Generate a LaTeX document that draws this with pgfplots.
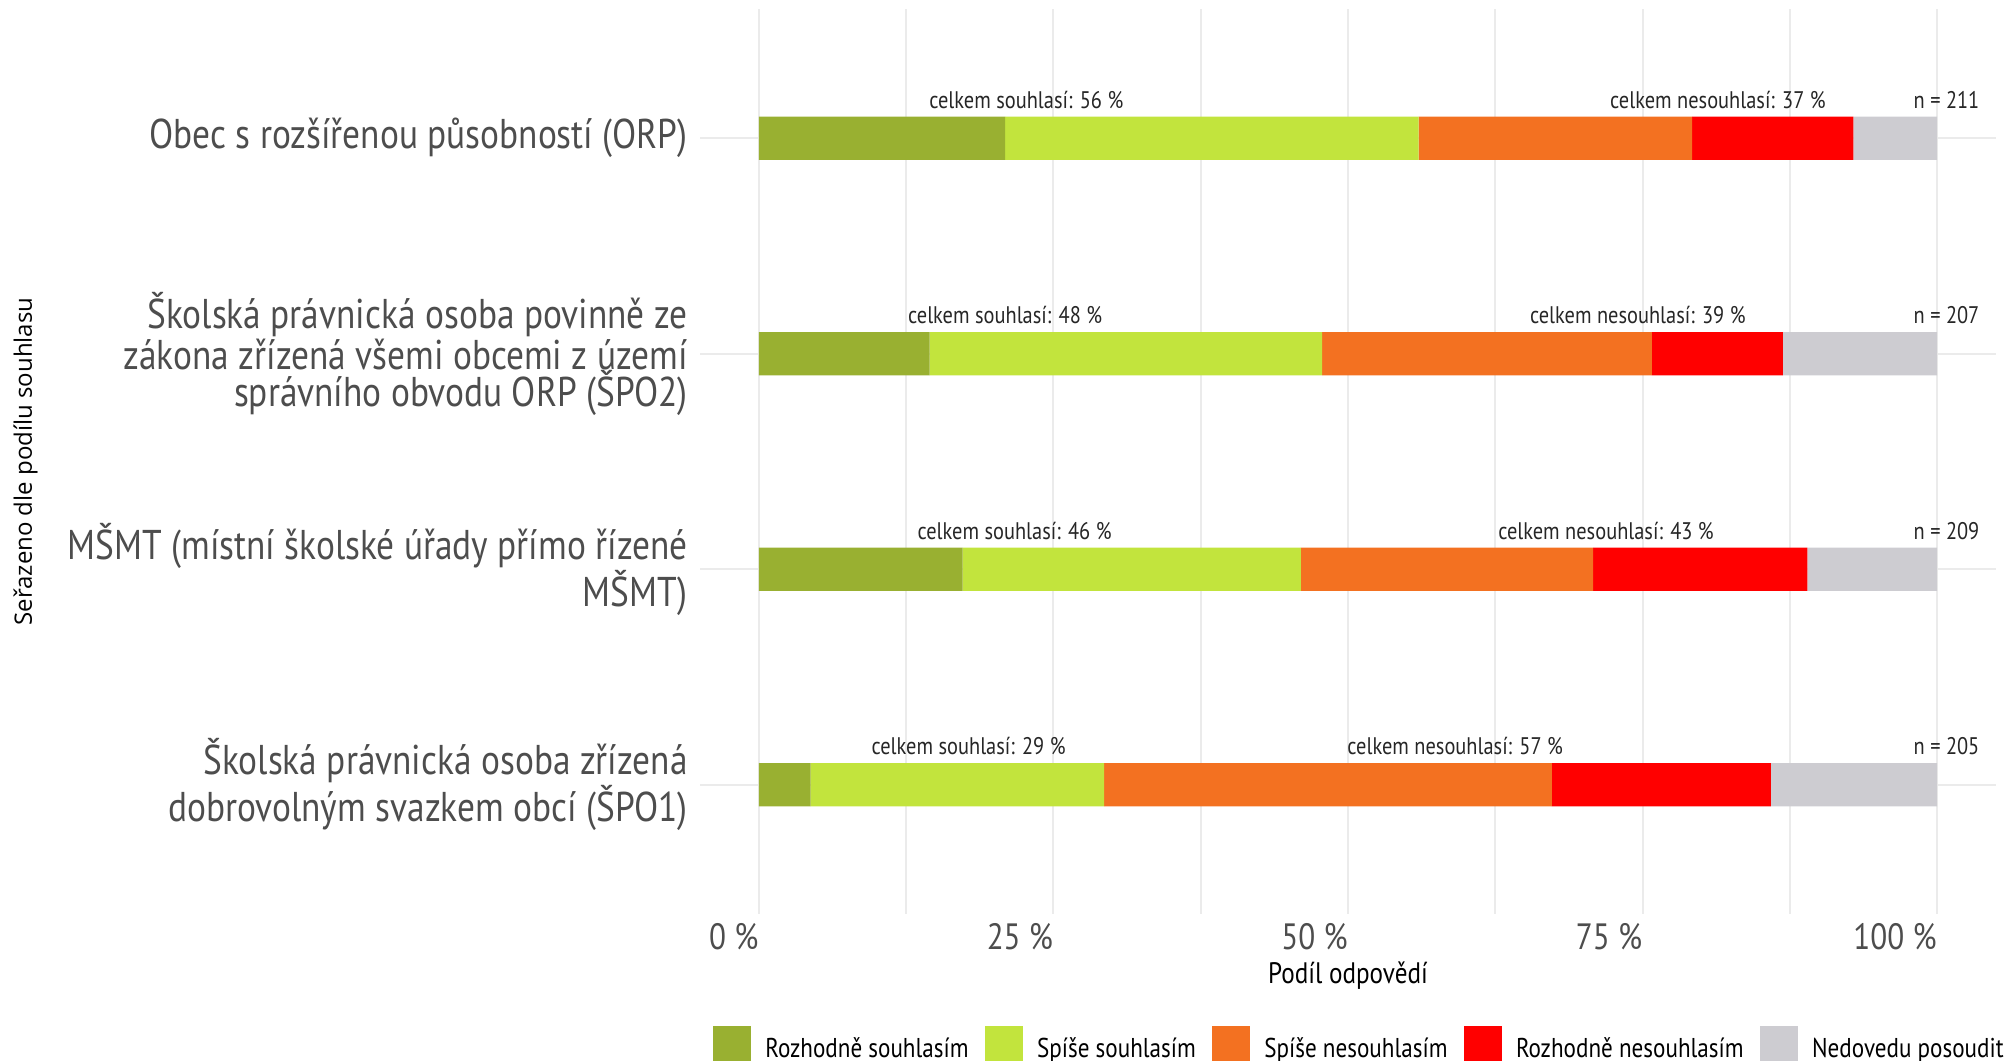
\documentclass[border=0pt]{standalone}
\usepackage{fontspec}
\setmainfont{PT Sans}[FakeStretch=0.85]
\newfontfamily\ytfont{Open Sans}
\usepackage{pgfplots}
\pgfplotsset{compat=1.18}
\definecolor{cDG}{HTML}{99B031}
\definecolor{cLG}{HTML}{C2E43D}
\definecolor{cOR}{HTML}{F37121}
\definecolor{cRD}{HTML}{FF0000}
\definecolor{cGY}{HTML}{CDCCD1}
\definecolor{cGrid}{HTML}{EBEBEB}
\definecolor{cTxt}{HTML}{4D4D4D}
\newcommand\catfont{\fontsize{20.8bp}{18.5bp}\selectfont}
\newcommand\tickfont{\fontsize{18.3bp}{20bp}\selectfont}
\newcommand\labfont{\fontsize{14.8bp}{16bp}\selectfont}
\newcommand\legfont{\fontsize{13.6bp}{15bp}\selectfont}
\newcommand\annfont{\fontsize{12bp}{13bp}\selectfont}
\tikzset{ann/.style={font=\annfont, text=black!85, inner sep=0pt, anchor=center}}
\begin{document}
\begin{tikzpicture}
\path[use as bounding box] (-350bp,-73.5bp) rectangle (652bp,457bp);
\begin{axis}[
  at={(0,0)}, anchor=south west,
  scale only axis, width=648bp, height=452.5bp,
  xbar stacked, bar width=0.2,
  xmin=-5, xmax=105, ymin=0.4, ymax=4.6,
  axis line style={draw=none},
  major tick style={draw=none}, minor tick style={draw=none},
  xtick={0,25,50,75,100},
  xticklabels={0 \%,25 \%,50 \%,75 \%,100 \%},
  minor xtick={12.5,37.5,62.5,87.5},
  ytick={1,2,3,4},
  yticklabels={
    {Školská právnická osoba zřízená\\dobrovolným svazkem obcí (ŠPO1)},
    {MŠMT (místní školské úřady přímo řízené\\MŠMT)},
    {Školská právnická osoba povinně ze\\zákona zřízená všemi obcemi z území\\správního obvodu ORP (ŠPO2)},
    {Obec s rozšířenou působností (ORP)}},
  xmajorgrids, xminorgrids, ymajorgrids,
  major grid style={cGrid, line width=1bp},
  minor grid style={cGrid, line width=1bp},
  xticklabel style={anchor=north east, inner sep=0pt, yshift=-4.5bp, font=\tickfont, text=cTxt},
  yticklabel style={anchor=east, align=right, inner sep=0pt, xshift=-6bp, font=\catfont, text=cTxt},
  xlabel={Podíl odpovědí},
  xlabel style={at={(axis description cs:0.5,0)}, anchor=center, yshift=-31bp, font=\labfont, text=black},
  ylabel={Seřazeno dle podílu souhlasu},
  ylabel style={at={(axis description cs:-0.5204,0.5)}, anchor=center, font=\ytfont\fontsize{12bp}{14bp}\selectfont, text=black},
  legend columns=5, legend cell align=left,
  area legend,
  legend image code/.code={\fill[#1] (0bp,-7.5bp) rectangle (19bp,11.5bp);},
  legend style={at={(axis description cs:0.01003,-0.14475)}, anchor=west,
    draw=none, fill=none, inner sep=0pt, column sep=7bp,
    /tikz/every even column/.append style={column sep=8.25bp},
    nodes={inner sep=0pt, font=\legfont, text=black}},
  clip=false,
]
\addplot[fill=cDG, draw=none] coordinates {(4.4,1) (17.3,2) (14.5,3) (20.9,4)};
\addlegendentry{Rozhodně souhlasím}
\addplot[fill=cLG, draw=none] coordinates {(24.9,1) (28.7,2) (33.3,3) (35.1,4)};
\addlegendentry{Spíše souhlasím}
\addplot[fill=cOR, draw=none] coordinates {(38.0,1) (24.8,2) (28.0,3) (23.2,4)};
\addlegendentry{Spíše nesouhlasím}
\addplot[fill=cRD, draw=none] coordinates {(18.6,1) (18.2,2) (11.1,3) (13.7,4)};
\addlegendentry{Rozhodně nesouhlasím}
\addplot[fill=cGY, draw=none] coordinates {(14.1,1) (11.0,2) (13.1,3) (7.1,4)};
\addlegendentry{Nedovedu posoudit}
\node[ann] at (axis cs:22.7,4.178) {celkem souhlasí: 56 \%};
\node[ann] at (axis cs:81.4,4.178) {celkem nesouhlasí: 37 \%};
\node[ann] at (axis cs:100.8,4.178) {n = 211};
\node[ann] at (axis cs:20.9,3.178) {celkem souhlasí: 48 \%};
\node[ann] at (axis cs:74.6,3.178) {celkem nesouhlasí: 39 \%};
\node[ann] at (axis cs:100.8,3.178) {n = 207};
\node[ann] at (axis cs:21.7,2.178) {celkem souhlasí: 46 \%};
\node[ann] at (axis cs:71.9,2.178) {celkem nesouhlasí: 43 \%};
\node[ann] at (axis cs:100.8,2.178) {n = 209};
\node[ann] at (axis cs:17.8,1.178) {celkem souhlasí: 29 \%};
\node[ann] at (axis cs:59.1,1.178) {celkem nesouhlasí: 57 \%};
\node[ann] at (axis cs:100.8,1.178) {n = 205};
\end{axis}
\end{tikzpicture}
\end{document}
